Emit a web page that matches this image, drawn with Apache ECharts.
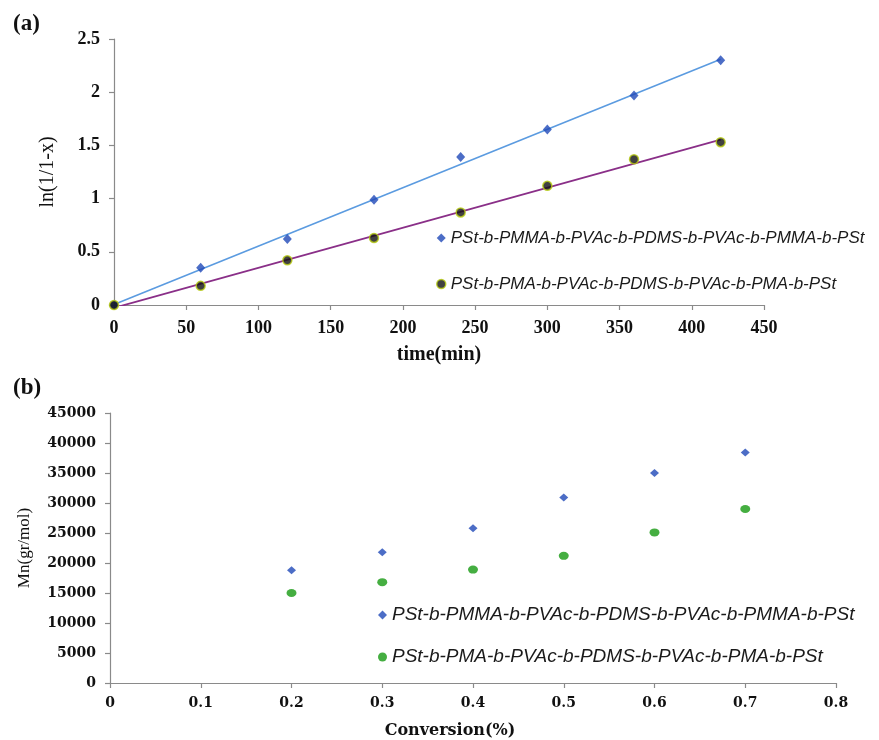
<!DOCTYPE html>
<html>
<head>
<meta charset="utf-8">
<script src="https://cdn.jsdelivr.net/npm/echarts@6/dist/echarts.min.js"></script>
<style>
  html, body { margin: 0; padding: 0; background: #fff; }
  #chart { width: 879px; height: 740px; }
</style>
</head>
<body>
<div id="chart"></div>
<script>
// Panel (a): kinetic plot, ln(1/(1-x)) against polymerisation time
const timeMin = [0, 60, 120, 180, 240, 300, 360, 420];
const lnPMMA = [0, 0.35, 0.62, 0.99, 1.39, 1.65, 1.97, 2.30];
const lnPMA = [0, 0.18, 0.42, 0.63, 0.87, 1.12, 1.37, 1.53];
// Linear trendline end points (time, ln value)
const fitPMMA = [[0, 0.005], [420, 2.31]];
const fitPMA = [[0, -0.027], [420, 1.555]];

// Panel (b): number-average molecular weight against conversion
const conversion = [0.2, 0.3, 0.4, 0.5, 0.6, 0.7];
const mnPMMA = [18800, 21800, 25800, 30900, 35000, 38400];
const mnPMA = [15000, 16800, 18900, 21200, 25100, 29000];

const nameA = 'PSt-b-PMMA-b-PVAc-b-PDMS-b-PVAc-b-PMMA-b-PSt';
const nameB = 'PSt-b-PMA-b-PVAc-b-PDMS-b-PVAc-b-PMA-b-PSt';

const pairs = (xs, ys) => xs.map((x, i) => [x, ys[i]]);

const serifBold = { fontFamily: 'Liberation Serif', fontWeight: 'bold', color: '#111' };
const wideBold = { fontFamily: 'DejaVu Serif', fontWeight: 'bold', color: '#111' };
const axisLine = { show: true, lineStyle: { color: '#8a8a8a', width: 1.2 } };
const axisTick = { show: true, length: 5, lineStyle: { color: '#8a8a8a', width: 1.2 } };

const colBlueLine = '#5b9be0';
const colPurpleLine = '#8a2f88';
const colBlueMark = '#1f48b8';
const colGreenMark = '#179a12';

const chart = echarts.init(document.getElementById('chart'), null, { renderer: 'canvas' });

chart.setOption({
  animation: false,
  backgroundColor: '#fff',
  title: [
    { text: '(a)', left: 8, top: 8, textStyle: Object.assign({ fontSize: 23 }, serifBold) },
    { text: '(b)', left: 8, top: 372, textStyle: Object.assign({ fontSize: 23 }, serifBold) }
  ],
  grid: [
    { left: 114, top: 39, width: 650, height: 266 },
    { left: 110, top: 413, width: 726, height: 273 }
  ],
  xAxis: [
    {
      gridIndex: 0, type: 'value', min: 0, max: 450, interval: 50,
      name: 'time(min)', nameLocation: 'middle', nameGap: 40,
      nameTextStyle: Object.assign({ fontSize: 20 }, serifBold),
      axisLine: axisLine, axisTick: axisTick, splitLine: { show: false },
      axisLabel: Object.assign({ fontSize: 18, margin: 14 }, serifBold)
    },
    {
      gridIndex: 1, type: 'value', min: 0, max: 0.8, interval: 0.1,
      name: 'Conversion(%)', nameLocation: 'middle', nameGap: 40,
      nameTextStyle: Object.assign({ fontSize: 16, padding: [0, 46, 0, 0] }, wideBold),
      axisLine: axisLine, axisTick: axisTick, splitLine: { show: false },
      axisLabel: Object.assign({ fontSize: 14, margin: 13 }, wideBold)
    }
  ],
  yAxis: [
    {
      gridIndex: 0, type: 'value', min: 0, max: 2.5, interval: 0.5,
      name: 'ln(1/1-x)', nameLocation: 'middle', nameGap: 56,
      nameTextStyle: { fontFamily: 'Liberation Serif', fontSize: 20, color: '#111' },
      axisLine: axisLine, axisTick: axisTick, splitLine: { show: false },
      axisLabel: Object.assign({ fontSize: 18, margin: 14 }, serifBold)
    },
    {
      gridIndex: 1, type: 'value', min: 0, max: 45000, interval: 5000,
      name: 'Mn(gr/mol)', nameLocation: 'middle', nameGap: 77,
      nameTextStyle: { fontFamily: 'Liberation Serif', fontSize: 17, color: '#111' },
      axisLine: axisLine, axisTick: axisTick, splitLine: { show: false },
      axisLabel: Object.assign({ fontSize: 14, margin: 14, formatter: (v) => String(v) }, wideBold)
    }
  ],
  legend: [
    {
      left: 436, top: 228, padding: 0, orient: 'vertical', itemGap: 26,
      itemWidth: 9, itemHeight: 9,
      textStyle: { fontFamily: 'Liberation Sans', fontStyle: 'italic', fontSize: 17, color: '#1a1a1a', lineHeight: 20 },
      selectedMode: false,
      data: [
        { name: nameA, icon: 'diamond', itemStyle: { color: colBlueMark, borderWidth: 0 } },
        { name: nameB, icon: 'circle', itemStyle: { color: '#111', borderColor: '#b8cc10', borderWidth: 1.5 } }
      ]
    },
    {
      left: 378, top: 605, padding: 0, orient: 'vertical', itemGap: 22,
      itemWidth: 9, itemHeight: 9,
      textStyle: { fontFamily: 'Liberation Sans', fontStyle: 'italic', fontSize: 19, color: '#1a1a1a', lineHeight: 20 },
      selectedMode: false,
      data: [
        { name: nameA, icon: 'diamond', itemStyle: { color: colBlueMark, borderWidth: 0 } },
        { name: nameB, icon: 'circle', itemStyle: { color: colGreenMark, borderWidth: 0 } }
      ]
    }
  ],
  series: [
    // Panel (a): trendlines
    {
      name: 'fitPMMA', type: 'line', xAxisIndex: 0, yAxisIndex: 0,
      data: fitPMMA, showSymbol: false, symbol: 'none', silent: true,
      lineStyle: { color: colBlueLine, width: 1.6 }, z: 2
    },
    {
      name: 'fitPMA', type: 'line', xAxisIndex: 0, yAxisIndex: 0,
      data: fitPMA, showSymbol: false, symbol: 'none', silent: true,
      lineStyle: { color: colPurpleLine, width: 1.8 }, z: 2
    },
    // Panel (a): measured points
    {
      name: nameA, type: 'scatter', xAxisIndex: 0, yAxisIndex: 0,
      data: pairs(timeMin, lnPMMA), symbol: 'diamond', symbolSize: [9, 10],
      itemStyle: { color: colBlueMark }, z: 5
    },
    {
      name: nameB, type: 'scatter', xAxisIndex: 0, yAxisIndex: 0,
      data: pairs(timeMin, lnPMA), symbol: 'circle', symbolSize: 9,
      itemStyle: { color: '#111', borderColor: '#b8cc10', borderWidth: 1.5 }, z: 5
    },
    // Panel (b): Mn versus conversion
    {
      name: nameA, type: 'scatter', xAxisIndex: 1, yAxisIndex: 1,
      data: pairs(conversion, mnPMMA), symbol: 'diamond', symbolSize: [9, 8],
      itemStyle: { color: colBlueMark }, z: 5
    },
    {
      name: nameB, type: 'scatter', xAxisIndex: 1, yAxisIndex: 1,
      data: pairs(conversion, mnPMA), symbol: 'circle', symbolSize: [10, 8],
      itemStyle: { color: colGreenMark }, z: 5
    }
  ]
});
</script>
</body>
</html>
